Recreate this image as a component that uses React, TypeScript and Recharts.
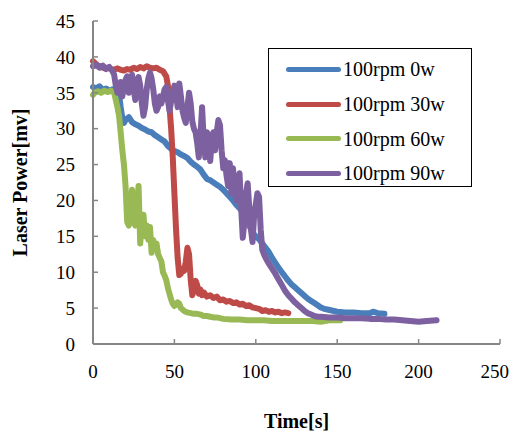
import React from 'react';
import { LineChart, Line, XAxis, YAxis, Legend } from 'recharts';

// [time s, laser power mV]
const rpm100w0: [number, number][] = [
  [0, 35.8], [2, 35.6], [4, 35.9], [6, 35.4], [8, 35.6], [10, 35.3], [12, 35.5], [14, 35.2], [16, 34.8],
  [17, 33.0], [18, 31.5], [19, 30.8], [20, 31.2], [22, 31.6], [24, 30.9], [26, 30.6], [28, 30.4], [30, 30.1],
  [32, 29.9], [34, 29.6], [36, 29.5], [38, 29.1], [40, 28.8], [42, 28.5], [44, 28.2], [46, 27.6], [48, 27.2],
  [50, 26.9], [52, 26.7], [54, 26.4], [56, 26.2], [58, 25.9], [60, 25.4], [62, 25.0], [64, 24.7], [66, 24.3],
  [68, 23.6], [70, 23.0], [72, 22.8], [74, 22.5], [76, 22.2], [78, 21.9], [80, 21.5], [82, 21.0], [84, 20.5],
  [86, 20.0], [88, 19.4], [90, 18.9], [92, 18.4], [94, 17.9], [96, 16.5], [98, 15.5], [100, 15.0], [102, 14.6],
  [104, 14.0], [106, 13.4], [108, 12.8], [110, 12.0], [112, 11.3], [114, 10.6], [116, 10.0], [118, 9.4],
  [120, 8.8], [122, 8.3], [124, 7.9], [126, 7.5], [128, 7.1], [130, 6.7], [132, 6.3], [134, 6.0], [136, 5.7],
  [138, 5.4], [140, 5.1], [142, 4.9], [144, 4.8], [146, 4.7], [148, 4.6], [150, 4.5], [155, 4.4], [160, 4.4],
  [165, 4.3], [170, 4.3], [172, 4.5], [175, 4.3], [179, 4.2],
];

const rpm100w30: [number, number][] = [
  [0, 39.4], [1, 39.2], [3, 38.8], [5, 38.6], [7, 38.4], [9, 38.5], [11, 38.3], [13, 38.2], [15, 38.4],
  [17, 38.2], [19, 38.1], [21, 38.3], [23, 38.2], [25, 38.5], [27, 38.3], [29, 38.6], [31, 38.4], [33, 38.7],
  [35, 38.5], [37, 38.4], [39, 38.5], [41, 38.2], [43, 38.0], [45, 37.3], [46, 36.0], [47, 33.0], [48, 30.0],
  [49, 26.0], [50, 21.0], [51, 16.0], [52, 12.0], [53, 9.6], [54, 9.8], [55, 10.5], [56, 10.2], [57, 11.5],
  [58, 13.4], [59, 12.5], [60, 9.0], [61, 6.8], [62, 7.5], [63, 8.8], [64, 8.2], [65, 7.0], [66, 7.6],
  [67, 6.8], [68, 7.2], [70, 6.6], [72, 6.8], [74, 6.4], [76, 6.6], [78, 6.1], [80, 6.2], [82, 5.9],
  [84, 6.0], [86, 5.7], [88, 5.8], [90, 5.5], [92, 5.6], [94, 5.3], [96, 5.4], [98, 5.1], [100, 5.0],
  [102, 4.9], [104, 4.6], [106, 4.7], [108, 4.5], [110, 4.6], [112, 4.4], [114, 4.5], [116, 4.3], [118, 4.4],
  [120, 4.3],
];

const rpm100w60: [number, number][] = [
  [0, 34.7], [1, 35.0], [3, 35.2], [5, 35.0], [7, 35.3], [9, 35.1], [11, 35.3], [13, 35.0], [14, 34.0],
  [15, 33.0], [16, 31.8], [17, 29.5], [18, 27.0], [19, 25.0], [20, 22.0], [21, 17.0], [22, 16.5], [23, 19.0],
  [24, 21.5], [25, 17.0], [26, 16.5], [27, 19.0], [28, 22.0], [29, 14.0], [30, 17.0], [31, 18.0], [32, 15.0],
  [33, 16.5], [34, 14.5], [35, 16.3], [36, 12.7], [37, 14.5], [38, 13.5], [39, 14.0], [40, 12.5], [41, 12.0],
  [42, 11.5], [43, 10.0], [44, 9.5], [45, 8.9], [46, 7.8], [47, 7.0], [48, 6.2], [49, 5.6], [50, 5.3],
  [51, 5.5], [52, 5.8], [53, 5.6], [54, 5.0], [56, 4.6], [58, 4.4], [60, 4.3], [62, 4.2], [64, 4.2],
  [66, 4.1], [68, 3.9], [70, 3.9], [72, 3.8], [74, 3.7], [76, 3.7], [80, 3.5], [85, 3.4], [90, 3.4],
  [95, 3.3], [100, 3.3], [105, 3.3], [110, 3.2], [115, 3.2], [120, 3.2], [125, 3.2], [130, 3.2], [135, 3.2],
  [140, 3.1], [145, 3.3], [150, 3.3], [152, 3.3],
];

const rpm100w90: [number, number][] = [
  [0, 38.7], [2, 38.9], [4, 38.5], [6, 38.8], [8, 38.3], [10, 38.6], [12, 38.0], [13, 37.5], [14, 36.0],
  [15, 35.0], [16, 35.5], [17, 36.5], [18, 34.5], [19, 35.8], [20, 36.8], [21, 37.3], [22, 35.0], [23, 36.0],
  [24, 37.5], [25, 35.5], [26, 34.0], [27, 36.5], [28, 37.2], [29, 36.0], [30, 33.5], [31, 31.8], [32, 33.0],
  [33, 35.5], [34, 37.0], [35, 37.8], [36, 37.0], [37, 35.5], [38, 33.5], [39, 32.5], [40, 33.0], [41, 34.5],
  [42, 33.5], [43, 34.5], [44, 35.5], [45, 35.8], [46, 34.0], [47, 32.5], [48, 33.8], [49, 35.0], [50, 36.0],
  [51, 35.0], [52, 33.0], [53, 36.3], [54, 34.5], [55, 32.5], [56, 31.5], [57, 30.8], [58, 33.0], [59, 35.0],
  [60, 33.5], [61, 31.0], [62, 30.0], [63, 29.5], [64, 28.0], [65, 26.0], [66, 29.0], [67, 33.0], [68, 28.5],
  [69, 26.0], [70, 29.5], [71, 29.0], [72, 25.5], [73, 28.5], [74, 29.5], [75, 27.0], [76, 29.5], [77, 31.2],
  [78, 30.5], [79, 27.0], [80, 24.5], [81, 25.6], [82, 23.5], [83, 22.0], [84, 25.2], [85, 21.0], [86, 24.5],
  [87, 21.5], [88, 20.0], [89, 22.5], [90, 23.8], [91, 19.0], [92, 14.8], [93, 17.0], [94, 21.0], [95, 22.4],
  [96, 19.0], [97, 16.0], [98, 14.2], [99, 18.0], [100, 19.5], [101, 21.0], [102, 20.5], [103, 16.0],
  [104, 13.1], [105, 12.5], [106, 12.0], [107, 11.6], [108, 11.2], [110, 10.5], [112, 9.8], [114, 9.0],
  [116, 8.2], [118, 7.4], [120, 6.8], [122, 6.3], [124, 5.8], [126, 5.4], [128, 5.0], [130, 4.6], [132, 4.3],
  [134, 4.1], [136, 3.9], [138, 3.8], [140, 3.8], [145, 3.7], [150, 3.7], [155, 3.6], [160, 3.6], [165, 3.6],
  [170, 3.5], [175, 3.5], [180, 3.4], [185, 3.4], [190, 3.3], [195, 3.2], [200, 3.1], [205, 3.2], [211, 3.3],
];

const seriesNames = ['100rpm 0w', '100rpm 30w', '100rpm 60w', '100rpm 90w'];
const seriesColors = ['#4A7EBB', '#BE4B48', '#98B954', '#7D60A0'];
const seriesData = [rpm100w0, rpm100w30, rpm100w60, rpm100w90];

const timeTicks = [0, 50, 100, 150, 200, 250];
const powerTicks = [0, 5, 10, 15, 20, 25, 30, 35, 40, 45];

const FONT = '"Liberation Serif", "Times New Roman", serif';
const AXIS_GRAY = '#868686';

const toPoints = (pairs: [number, number][]) => pairs.map(([t, v]) => ({ t, v }));

const YTitle = (props: any) => {
  const vb = props.viewBox || {};
  const cx = vb.x + 12;
  const cy = vb.y + vb.height / 2;
  return (
    <text
      x={cx}
      y={cy}
      transform={`rotate(-90, ${cx}, ${cy})`}
      textAnchor="middle"
      dominantBaseline="central"
      style={{ fontFamily: FONT, fontWeight: 'bold', fontSize: 20 }}
      fill="#000"
    >
      Laser Power[mv]
    </text>
  );
};

const XTitle = (props: any) => {
  const vb = props.viewBox || {};
  const cx = vb.x + vb.width / 2;
  const by = vb.y + 84;
  return (
    <text x={cx} y={by} textAnchor="middle" style={{ fontFamily: FONT, fontWeight: 'bold', fontSize: 20 }} fill="#000">
      Time[s]
    </text>
  );
};

const XTick = (props: any) => {
  const { x, y, payload, index, visibleTicksCount } = props;
  const last = index === visibleTicksCount - 1;
  return (
    <text
      x={last ? x + 9 : x}
      y={y}
      dy="0.71em"
      textAnchor={last ? 'end' : 'middle'}
      style={{ fontFamily: FONT, fontSize: 19 }}
      fill="#000"
    >
      {payload.value}
    </text>
  );
};

const LegendBox = (props: any) => {
  const payload = props.payload || [];
  return (
    <div
      style={{
        width: 204,
        height: 139,
        boxSizing: 'border-box',
        border: '1.5px solid #000',
        background: '#fff',
        paddingTop: 3,
      }}
    >
      {payload.map((p: any) => (
        <div key={p.value} style={{ display: 'flex', alignItems: 'center', height: 34.7 }}>
          <div style={{ width: 55, height: 5, borderRadius: 3, background: p.color, marginLeft: 17, marginRight: 2 }} />
          <span style={{ fontFamily: FONT, fontSize: 20, color: '#000', lineHeight: '20px' }}>{p.value}</span>
        </div>
      ))}
    </div>
  );
};

const tickStyle = { fontFamily: FONT, fontSize: 19, fill: '#000' };

export default function App() {
  return (
    <div style={{ width: 509, height: 425, position: 'relative', fontFamily: FONT }}>
      <LineChart
        width={509}
        height={425}
        margin={{ top: 13, right: 17, bottom: 0, left: 0 }}
        style={{ overflow: 'visible' }}
      >
        <XAxis
          dataKey="t"
          type="number"
          domain={[0, 250]}
          ticks={timeTicks}
          interval={0}
          allowDuplicatedCategory={false}
          height={89}
          tickSize={-5}
          tickMargin={26}
          axisLine={{ stroke: AXIS_GRAY, strokeWidth: 2 }}
          tickLine={{ stroke: AXIS_GRAY, strokeWidth: 1.5 }}
          tick={<XTick />}
          label={<XTitle />}
        />
        <XAxis
          xAxisId="top"
          orientation="top"
          dataKey="t"
          type="number"
          domain={[0, 250]}
          height={0}
          tick={false}
          tickLine={false}
          axisLine={{ stroke: '#000', strokeWidth: 1.5 }}
        />
        <YAxis
          type="number"
          domain={[0, 45]}
          ticks={powerTicks}
          interval={0}
          width={85}
          tickSize={-5}
          tickMargin={23}
          axisLine={{ stroke: AXIS_GRAY, strokeWidth: 2 }}
          tickLine={{ stroke: AXIS_GRAY, strokeWidth: 1.5 }}
          tick={tickStyle}
          label={<YTitle />}
        />
        <YAxis
          yAxisId="right"
          orientation="right"
          type="number"
          domain={[0, 45]}
          width={0}
          tick={false}
          tickLine={false}
          axisLine={{ stroke: '#000', strokeWidth: 1.5 }}
        />
        {seriesData.map((d, i) => (
          <Line
            key={seriesNames[i]}
            data={toPoints(d)}
            dataKey="v"
            name={seriesNames[i]}
            type="linear"
            stroke={seriesColors[i]}
            strokeWidth={6}
            strokeLinejoin="round"
            strokeLinecap="round"
            dot={false}
            activeDot={false}
            isAnimationActive={false}
          />
        ))}
        <Legend
          layout="horizontal"
          verticalAlign="middle"
          align="center"
          content={<LegendBox />}
          wrapperStyle={{ position: 'absolute', left: 260, top: 40, width: 204, height: 139, bottom: 'auto', right: 'auto' }}
        />
      </LineChart>
    </div>
  );
}
